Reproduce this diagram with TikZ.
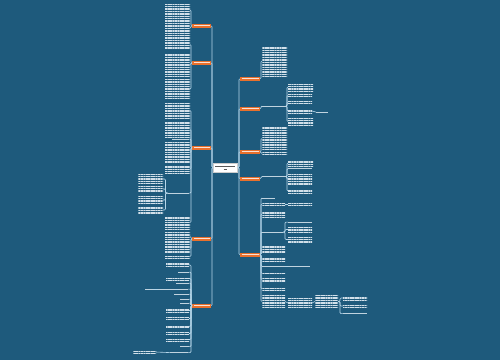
\documentclass[tikz,border=0pt]{standalone}
\usetikzlibrary{fit,patterns.meta}
\definecolor{bg}{HTML}{1E5A7C}
\definecolor{ln}{HTML}{B5D6EA}
\definecolor{tx}{HTML}{D2E0EA}
\definecolor{org}{HTML}{E8702C}
\tikzset{
 tblk/.style={inner sep=0pt, outer sep=0pt, draw=none, pattern={Lines[angle=0,distance=1.7pt,line width=0.9pt]}, pattern color=tx},
 tone/.style={inner sep=0pt, outer sep=0pt, fill=tx!90!bg},
 onode/.style={inner sep=0pt, outer sep=0pt, fill=org, path picture={\draw[white!80!org,line width=0.8pt] ([xshift=1.5pt]path picture bounding box.west) -- ([xshift=-1.5pt]path picture bounding box.east);}},
 cnode/.style={inner sep=0pt, outer sep=0pt, fill=white, draw=gray!40, line width=0.3pt, path picture={
   \draw[gray!70!black,line width=0.8pt] ([xshift=2pt,yshift=1.3pt]path picture bounding box.west) -- ([xshift=-2pt,yshift=1.3pt]path picture bounding box.east);
   \draw[gray!70!black,line width=0.8pt] ([xshift=-1.5pt,yshift=-1.5pt]path picture bounding box.center) -- ([xshift=1.5pt,yshift=-1.5pt]path picture bounding box.center);}},
 conn/.style={draw=ln, line width=0.6pt, rounded corners=1pt},
}
\newcommand\tb[5]{\node[tblk,fit={(#2,#3)(#4,#5)}] (#1) {};}
\newcommand\tl[5]{\node[tone,fit={(#2,#3)(#4,#5)}] (#1) {};}
\newcommand\on[5]{\node[onode,fit={(#2,#3)(#4,#5)}] (#1) {};}
\begin{document}
\begin{tikzpicture}[x=1pt,y=-1pt]
\fill[bg] (0,0) rectangle (500,360);
\useasboundingbox (0,0) rectangle (500,360);
% centre
\node[cnode,fit={(213,163)(237,172)}] (C) {};
% left branches
\on{L1}{192}{23.5}{211}{28}
\on{L2}{192}{60.5}{211}{65}
\on{L3}{192}{145.5}{211}{150}
\on{L4}{192}{236.5}{211}{241}
\on{L5}{192}{303.5}{211}{308}
% right branches
\on{R1}{240}{76.5}{260}{81}
\on{R2}{240}{106.5}{260}{111}
\on{R3}{240}{149.5}{260}{154}
\on{R4}{240}{176.5}{260}{181}
\on{R5}{240}{252.5}{260}{257}
% L1 children
\tb{L1a}{165}{4}{190}{16}
\tb{L1b}{165}{18}{190}{38}
% L2
\tb{L2a}{165}{40}{190}{49}
\tb{L2b}{165}{53}{190}{76}
\tb{L2c}{165}{79}{190}{99}
% L3
\tb{L3a}{165}{103}{190}{118}
\tb{L3b}{165}{122}{190}{137}
\tl{L3c}{172}{138.5}{189}{139.7}
\tb{L3d}{165}{142}{190}{163}
\tb{L3e}{165}{165}{190}{173}
\tl{L3f}{168}{192.5}{189}{193.7}
\tb{L3g}{165}{216}{190}{229}
\tb{G1}{138}{174}{163}{184}
\tb{G2}{138}{186}{163}{192}
\tb{G3}{138}{196}{163}{204}
\tb{G4}{138}{206}{163}{214}
% L4
\tb{L4a}{165}{231}{190}{242}
\tb{L4b}{165}{244}{190}{253}
\tb{L4c}{165}{255}{190}{258}
% L5
\tb{L5a}{166}{263}{189}{267}
\tl{L5b}{178}{271.5}{189}{272.7}
\tb{L5c}{166}{277}{189}{280}
\tl{L5d}{176}{282.5}{189}{283.7}
\tl{L5e}{178}{288.5}{188}{289.7}
\tl{L5ex}{158}{288.5}{175}{289.7}
\tl{L5ey}{145}{288.5}{153}{289.7}
\tl{L5f}{174}{293.5}{189}{294.7}
\tl{L5g}{180}{298.5}{189}{299.7}
\tl{L5h}{180}{302.5}{189}{303.7}
\tb{L5i}{166}{309}{189}{312}
\tb{L5j}{166}{317}{189}{320}
\tb{L5k}{166}{325}{189}{327.5}
\tb{L5l}{166}{332}{189}{335}
\tb{L5m}{166}{338}{189}{341}
\tl{L5n}{180}{346}{189}{347.2}
\tl{L5o}{170}{352}{188}{353.2}
\tb{L5ox}{133}{350}{156}{354}
% R1
\tb{R1a}{262}{46}{287}{76}
% R2
\tl{R2a}{262}{105.5}{286}{106.7}
\tb{R2b}{288}{83}{313}{91}
\tb{R2c}{288}{94}{312}{97}
\tb{R2d}{288}{101}{312}{104}
\tb{R2e}{288}{109}{312}{113}
\tl{R2ex}{316}{111.5}{328}{112.7}
\tb{R2f}{288}{117}{313}{126}
% R3
\tb{R3a}{262}{127}{287}{150}
\tb{R3b}{262}{152}{287}{155}
% R4
\tl{R4a}{262}{176}{286}{177.2}
\tb{R4b}{288}{160}{313}{166}
\tl{R4c}{288}{168}{312}{169.2}
\tb{R4d}{288}{174}{312}{185}
\tb{R4e}{288}{189}{312}{193}
% R5
\tl{R5a}{262}{197.5}{275}{198.7}
\tb{R5b}{262}{202}{285}{206}
\tb{R5bx}{288}{202}{312}{206}
\tb{R5c}{262}{211}{285}{217}
\tl{R5d}{262}{231.5}{283}{232.7}
\tl{R5da}{288}{221.5}{312}{222.7}
\tb{R5db}{288}{227}{312}{232}
\tb{R5dc}{288}{237}{312}{242}
\tb{R5e}{262}{246}{285}{253}
\tb{R5f}{262}{257}{285}{262}
\tl{R5g}{262}{265.5}{285}{266.7}
\tl{R5gx}{288}{265.5}{310}{266.7}
\tb{R5h}{262}{272}{285}{274.5}
\tb{R5i}{262}{278}{285}{281}
\tb{R5j}{262}{287}{285}{290.5}
\tb{R5k}{262}{295}{285}{308}
\tb{R5kx}{288}{298}{312}{308}
\tb{R5ky}{315}{295}{338}{308}
\tb{R5m}{343}{296}{367}{300}
\tb{R5n}{343}{304}{367}{308}
\tl{R5o}{343}{313}{367}{314.2}
% trunk connectors
\foreach \b in {L1,L2,L3,L4,L5} \draw[conn] (C.west) -- ++(-1,0) |- (\b.east);
\foreach \b in {R1,R2,R3,R4,R5} \draw[conn] (C.east) -- ++(2,0) |- (\b.west);
% left children
\foreach \b/\k in {L1/L1a,L1/L1b,L2/L2a,L2/L2b,L2/L2c,L3/L3a,L3/L3b,L3/L3c,L3/L3d,L3/L3e,L3/L3f,L3/L3g,L4/L4a,L4/L4b,L4/L4c,L5/L5a,L5/L5b,L5/L5c,L5/L5d,L5/L5e,L5/L5f,L5/L5g,L5/L5h,L5/L5i,L5/L5j,L5/L5k,L5/L5l,L5/L5m,L5/L5n,L5/L5o}
  \draw[conn] (\b.west) -- ++(-1,0) |- (\k.east);
\foreach \k in {G1,G2,G3,G4} \draw[conn] (L3f.west) -- ++(-2.5,0) |- (\k.east);
\draw[conn] (L5e.west) -- (L5ex.east);
\draw[conn] (L5ex.west) -- (L5ey.east);
\draw[conn] (L5o.west) -- (L5ox.east);
% right children
\foreach \b/\k in {R1/R1a,R2/R2a,R3/R3a,R3/R3b,R4/R4a,R5/R5a,R5/R5b,R5/R5c,R5/R5d,R5/R5e,R5/R5f,R5/R5g,R5/R5h,R5/R5i,R5/R5j,R5/R5k}
  \draw[conn] (\b.east) -- ++(1,0) |- (\k.west);
\foreach \k in {R2b,R2c,R2d,R2e,R2f} \draw[conn] (R2a.east) -- ++(1,0) |- (\k.west);
\foreach \k in {R4b,R4c,R4d,R4e} \draw[conn] (R4a.east) -- ++(1,0) |- (\k.west);
\foreach \k in {R5da,R5db,R5dc} \draw[conn] (R5d.east) -- ++(2,0) |- (\k.west);
\foreach \k in {R5m,R5n,R5o} \draw[conn] (R5ky.east) -- ++(2,0) |- (\k.west);
\draw[conn] (R2e.east) -- (R2ex.west);
\draw[conn] (R5b.east) -- (R5bx.west);
\draw[conn] (R5g.east) -- (R5gx.west);
\draw[conn] (R5k.east) -- (R5kx.west);
\draw[conn] (R5kx.east) -- (R5ky.west);
\end{tikzpicture}
\end{document}
